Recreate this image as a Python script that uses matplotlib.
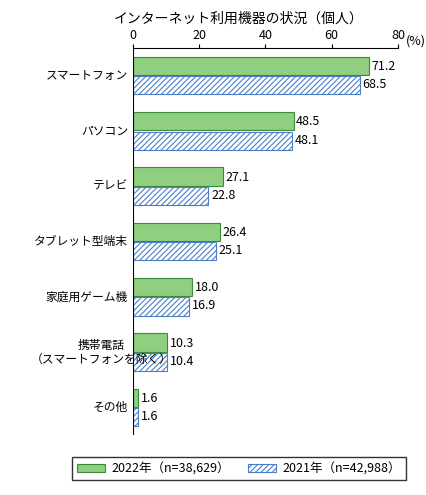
import matplotlib.pyplot as plt
import numpy as np

plt.rcParams['font.family'] = ['Noto Sans CJK JP', 'DejaVu Sans']
plt.rcParams['hatch.color'] = '#4a7fc8'
plt.rcParams['hatch.linewidth'] = 0.8

categories = ['スマートフォン', 'パソコン', 'テレビ', 'タブレット型端末', '家庭用ゲーム機',
              '携帯電話\n（スマートフォンを除く）', 'その他']
v2022 = [71.2, 48.5, 27.1, 26.4, 18.0, 10.3, 1.6]
v2021 = [68.5, 48.1, 22.8, 25.1, 16.9, 10.4, 1.6]
xticks = [0, 20, 40, 60, 80]

fig = plt.figure(figsize=(4.27, 4.95), dpi=100)
ax = fig.add_axes([0.311, 0.121, 0.621, 0.782])

y = np.arange(len(categories))
h = 0.33
ax.barh(y - h / 2 - 0.01, v2022, height=h, color='#8fcf7f', edgecolor='#3c8a3c', linewidth=0.8,
        label='2022年（n=38,629）')
ax.barh(y + h / 2 + 0.01, v2021, height=h, color='white', edgecolor='#4a7fc8', linewidth=0.8,
        hatch='//////', label='2021年（n=42,988）')

for i in range(len(categories)):
    ax.text(v2022[i] + 0.8, y[i] - h / 2, f'{v2022[i]:.1f}', va='center', fontsize=9)
    ax.text(v2021[i] + 0.8, y[i] + h / 2, f'{v2021[i]:.1f}', va='center', fontsize=9)

ax.set_ylim(len(categories) - 0.5, -0.5)
ax.set_xlim(0, 80)
ax.set_yticks(y)
ax.set_yticklabels([])
for i, c in enumerate(categories):
    if '\n' in c:
        ax.text(-9.4, y[i], c, ha='center', va='center', fontsize=8.5, linespacing=1.1)
    else:
        ax.text(-1.5, y[i], c, ha='right', va='center', fontsize=8.5)
ax.set_xticks(xticks)
ax.set_xticklabels([str(t) for t in xticks], fontsize=9)
ax.xaxis.tick_top()
ax.tick_params(axis='x', length=3, pad=1)
ax.tick_params(axis='y', length=0)
for s in ['right', 'bottom', 'left']:
    ax.spines[s].set_visible(False)
ax.axvline(0, color='black', linewidth=0.8)
ax.text(82.3, -0.5, '(%)', fontsize=9, va='bottom', ha='left', clip_on=False)
fig.text(0.56, 0.963, 'インターネット利用機器の状況（個人）', ha='center', va='center', fontsize=10)

fig.legend(loc='center', bbox_to_anchor=(0.56, 0.053), ncol=2, fontsize=9, frameon=True,
           edgecolor='black', fancybox=False, handlelength=2.2, columnspacing=1.5,
           borderpad=0.4, handletextpad=0.5)

fig.savefig('out.png', dpi=100)
